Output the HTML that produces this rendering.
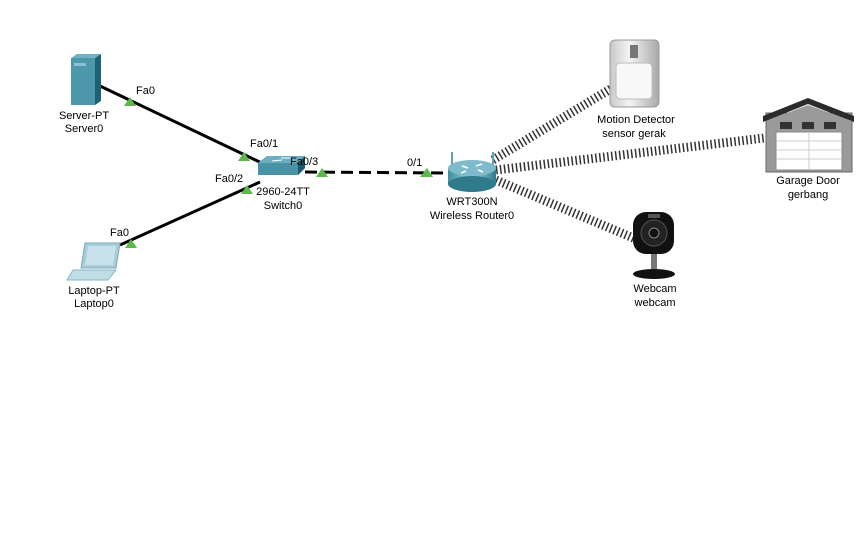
<!DOCTYPE html>
<html><head><meta charset="utf-8"><style>
html,body{margin:0;padding:0;background:#fff;width:865px;height:536px;overflow:hidden}
svg text{font-family:"Liberation Sans",sans-serif;font-size:11px;fill:#000}
</style></head><body>
<svg width="865" height="536" viewBox="0 0 865 536" xmlns="http://www.w3.org/2000/svg">
<defs>
<linearGradient id="rg" x1="0" y1="0" x2="1" y2="0"><stop offset="0" stop-color="#3d8da0"/><stop offset=".5" stop-color="#a9d6e0"/><stop offset="1" stop-color="#2f7a8c"/></linearGradient>
<linearGradient id="md" x1="0" y1="0" x2="1" y2="0"><stop offset="0" stop-color="#c9c9c9"/><stop offset=".4" stop-color="#f4f4f4"/><stop offset="1" stop-color="#a8a8a8"/></linearGradient>
</defs>
<!-- wireless hatched links -->
<g stroke="#333" stroke-width="9" stroke-dasharray="1.5 2.5" fill="none">
<line x1="493" y1="160" x2="612" y2="88"/>
<line x1="496" y1="170" x2="764" y2="138"/>
<line x1="496" y1="180" x2="638" y2="240"/>
</g>
<!-- cables -->
<line x1="100" y1="86" x2="268" y2="166" stroke="#000" stroke-width="3"/>
<line x1="260" y1="182" x2="120" y2="245" stroke="#000" stroke-width="3"/>
<line x1="305" y1="172" x2="448" y2="173" stroke="#000" stroke-width="3" stroke-dasharray="12 6"/>
<!-- server -->
<g>
<polygon points="71,58 95,58 101,54 77,54" fill="#6fb2c2"/>
<rect x="71" y="58" width="24" height="47" fill="#4d98ab"/>
<polygon points="95,58 101,54 101,101 95,105" fill="#1f6275"/>
<rect x="74" y="63" width="12" height="3" fill="#8cc2d0"/>
</g>
<!-- switch -->
<g>
<polygon points="258,175 258,163 267,156 305,156 305,168 298,175" fill="#3a7f92"/>
<polygon points="258,163 267,156 305,156 298,163" fill="#6aaebf"/>
<rect x="258" y="163" width="40" height="12" fill="#4a93a7"/>
<polygon points="298,163 305,156 305,168 298,175" fill="#1d5b6c"/>
<line x1="272" y1="161" x2="282" y2="160" stroke="#fff" stroke-width="1"/>
<line x1="281" y1="158" x2="292" y2="158" stroke="#fff" stroke-width="1"/>
</g>
<!-- laptop -->
<g>
<polygon points="85,243 120,243 116,268 81,268" fill="#a8cdd8" stroke="#7aa9b8"/>
<polygon points="88,246 116,246 113,265 85,265" fill="#c7e2ea"/>
<polygon points="73,270 116,270 108,280 67,280" fill="#c0dde6" stroke="#8ab5c3"/>
</g>
<!-- router -->
<g>
<line x1="452" y1="152" x2="452" y2="170" stroke="#5aa3b5" stroke-width="2"/>
<line x1="493" y1="152" x2="493" y2="170" stroke="#5aa3b5" stroke-width="2"/>
<rect x="448" y="168" width="48" height="16" fill="url(#rg)"/>
<ellipse cx="472" cy="184" rx="24" ry="8" fill="#2f7a8c"/>
<ellipse cx="472" cy="168" rx="24" ry="8" fill="#7fbccb"/>
<path d="M462 166 l6 2 M476 166 l6 -2 M466 171 l-5 2 M478 170 l5 2" stroke="#fff" stroke-width="1.5"/>
</g>
<!-- motion detector -->
<g>
<path d="M616 40 h38 q5 0 5 6 v55 q0 6 -6 6 h-38 q-5 0 -5 -6 v-55 q0 -6 6 -6z" fill="url(#md)" stroke="#999"/>
<rect x="630" y="45" width="8" height="13" fill="#777"/>
<rect x="616" y="63" width="36" height="36" rx="4" fill="#f8f8f8" stroke="#bbb"/>
</g>
<!-- garage -->
<g>
<rect x="766" y="113" width="86" height="59" fill="#9a9a9a" stroke="#666"/>
<polygon points="763,116 808,98 854,116 854,122 808,104 763,122" fill="#2b2b2b"/>
<polygon points="766,121 808,105 852,121" fill="#9a9a9a"/>
<rect x="776" y="132" width="66" height="38" fill="#fff" stroke="#888"/>
<g fill="#333"><rect x="780" y="122" width="12" height="7"/><rect x="802" y="122" width="12" height="7"/><rect x="824" y="122" width="12" height="7"/></g>
<g stroke="#ccc"><line x1="809" y1="133" x2="809" y2="169"/><line x1="777" y1="141" x2="841" y2="141"/><line x1="777" y1="150" x2="841" y2="150"/><line x1="777" y1="159" x2="841" y2="159"/></g>
</g>
<!-- webcam -->
<g>
<rect x="633" y="212" width="41" height="42" rx="13" fill="#111"/>
<rect x="648" y="214" width="12" height="4" fill="#555"/>
<circle cx="654" cy="233" r="13" fill="#222" stroke="#555"/>
<circle cx="654" cy="233" r="5" fill="#111" stroke="#888"/>
<rect x="651" y="254" width="6" height="15" fill="#777"/>
<ellipse cx="654" cy="274" rx="21" ry="5" fill="#111"/>
</g>
<!-- port triangles -->
<g fill="#5cb84a">
<polygon points="124,106 136,106 130,97"/>
<polygon points="238,161 250,161 244,152"/>
<polygon points="241,194 253,194 247,185"/>
<polygon points="125,248 137,248 131,239"/>
<polygon points="316,177 328,177 322,168"/>
<polygon points="420,177 433,177 427,168"/>
</g>
<!-- labels -->
<text x="136" y="94">Fa0</text>
<text x="250" y="147">Fa0/1</text>
<text x="215" y="182">Fa0/2</text>
<text x="290" y="165">Fa0/3</text>
<text x="110" y="236">Fa0</text>
<text x="407" y="166">0/1</text>
<g text-anchor="middle">
<text x="84" y="119">Server-PT</text><text x="84" y="132">Server0</text>
<text x="94" y="294">Laptop-PT</text><text x="94" y="307">Laptop0</text>
<text x="283" y="195">2960-24TT</text><text x="283" y="209">Switch0</text>
<text x="472" y="205">WRT300N</text><text x="472" y="219">Wireless Router0</text>
<text x="636" y="123">Motion Detector</text><text x="634" y="137">sensor gerak</text>
<text x="808" y="184">Garage Door</text><text x="808" y="198">gerbang</text>
<text x="655" y="292">Webcam</text><text x="655" y="306">webcam</text>
</g>
</svg>
</body></html>
